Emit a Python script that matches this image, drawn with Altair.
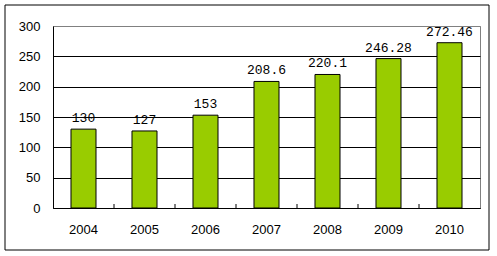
import altair as alt
import pandas as pd

years = ["2004", "2005", "2006", "2007", "2008", "2009", "2010"]
values = [130, 127, 153, 208.6, 220.1, 246.28, 272.46]
labels = ["130", "127", "153", "208.6", "220.1", "246.28", "272.46"]
y_ticks = [0, 50, 100, 150, 200, 250, 300]

df = pd.DataFrame({"year": years, "value": values, "label": labels})

xaxis = alt.Axis(labelAngle=0, ticks=False, labelPadding=15,
                 labelFont="Liberation Sans", labelFontSize=13,
                 labelColor="#000000", domainColor="#000000", domainWidth=1)
xscale = alt.Scale(paddingInner=0, paddingOuter=0)
yaxis = alt.Axis(values=y_ticks, ticks=False, labelOverlap=False, labelFlush=False,
                 labelPadding=13, labelFont="Liberation Sans", labelFontSize=13,
                 labelColor="#000000", domainColor="#000000",
                 grid=True,
                 gridColor={"condition": {"test": "datum.value === 300", "value": "#808080"}, "value": "#000000"},
                 gridOpacity=1, gridWidth=1)
yscale = alt.Scale(domain=[0, 300], nice=False)

xenc = alt.X("year:N", sort=years, title=None, scale=xscale, axis=xaxis)
yenc = alt.Y("value:Q", title=None, scale=yscale, axis=yaxis)

bars = alt.Chart(df).mark_bar(
    width=alt.RelativeBandSize(0.41), color="#99CC00", stroke="#000000", strokeWidth=1
).encode(x=xenc, y=yenc)

text = alt.Chart(df).mark_text(
    baseline="bottom", dy=-4, font="Liberation Mono", fontSize=13, color="#000000"
).encode(x=xenc, y=yenc, text="label:N")

ticks = alt.Chart(df).transform_filter(
    alt.datum.year != years[0]
).mark_rule(color="#000000", strokeWidth=1).encode(
    x=alt.X("year:N", sort=years, title=None, scale=xscale, axis=xaxis, bandPosition=0),
    y=alt.value(178), y2=alt.value(182)
)

frame = alt.Chart(pd.DataFrame({"a": [0]})).mark_rect(
    fill=None, stroke="#000000", strokeWidth=1
).encode(x=alt.value(-48), x2=alt.value(436), y=alt.value(-21), y2=alt.value(224))

chart = alt.layer(bars, ticks, text, frame).properties(
    width=427, height=182,
    autosize=alt.AutoSizeParams(type="none"),
    padding={"left": 53, "top": 26, "right": 17, "bottom": 48},
    background="#ffffff"
).configure_view(stroke="#808080", strokeWidth=1)

chart.save("out.html", embed_options={"renderer": "svg", "actions": False})
